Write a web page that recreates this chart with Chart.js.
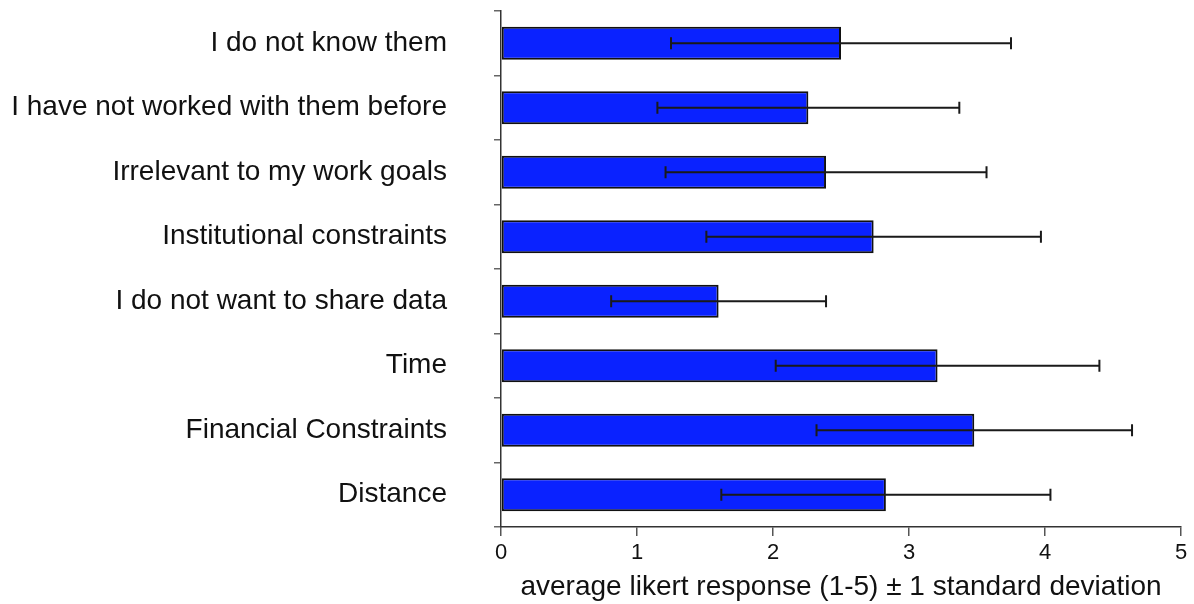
<!DOCTYPE html>
<html>
<head>
<meta charset="utf-8">
<title>Reasons for not collaborating</title>
<script src="https://cdn.jsdelivr.net/npm/chart.js@4.4.1/dist/chart.umd.min.js"></script>
<style>
    html, body { margin: 0; padding: 0; background: #ffffff; }
    #wrap { width: 1194px; height: 604px; position: relative; }
</style>
</head>
<body>
<div id="wrap"><canvas id="likertChart"></canvas></div>
<script>
// Chart data
const categories = [
    'I do not know them',
    'I have not worked with them before',
    'Irrelevant to my work goals',
    'Institutional constraints',
    'I do not want to share data',
    'Time',
    'Financial Constraints',
    'Distance'
];
const meanValues = [2.50, 2.26, 2.39, 2.74, 1.60, 3.21, 3.48, 2.83];
const stdDevs = [1.25, 1.11, 1.18, 1.23, 0.79, 1.19, 1.16, 1.21];
const xTicks = [0, 1, 2, 3, 4, 5];
const xTitle = 'average likert response (1-5) \u00b1 1 standard deviation';

const FONT = '"Liberation Sans", Arial, Helvetica, sans-serif';

// Draws the +/- 1 sd whiskers on top of the bars
const errorBarPlugin = {
    id: 'errorBars',
    afterDatasetsDraw(chart) {
        const ctx = chart.ctx;
        const xScale = chart.scales.x;
        const yScale = chart.scales.y;
        const capHalf = 6;

        ctx.save();
        ctx.strokeStyle = '#1a1a1a';
        ctx.lineWidth = 2;
        meanValues.forEach((mean, i) => {
            const y = yScale.getPixelForValue(i);
            const x1 = xScale.getPixelForValue(mean - stdDevs[i]);
            const x2 = xScale.getPixelForValue(mean + stdDevs[i]);
            ctx.beginPath();
            ctx.moveTo(x1, y);
            ctx.lineTo(x2, y);
            ctx.moveTo(x1, y - capHalf);
            ctx.lineTo(x1, y + capHalf);
            ctx.moveTo(x2, y - capHalf);
            ctx.lineTo(x2, y + capHalf);
            ctx.stroke();
        });
        ctx.restore();
    }
};

function initializeChart() {
    const canvas = document.getElementById('likertChart');
    const ctx = canvas.getContext('2d');

    new Chart(ctx, {
        type: 'bar',
        data: {
            labels: categories,
            datasets: [{
                data: meanValues,
                backgroundColor: '#0a22ff',
                borderColor: '#111111',
                borderWidth: 2,
                borderSkipped: false,
                barPercentage: 0.51,
                categoryPercentage: 1
            }]
        },
        options: {
            indexAxis: 'y',
            responsive: true,
            maintainAspectRatio: false,
            animation: false,
            layout: {
                padding: { top: 11, right: 13, left: 0, bottom: 0 }
            },
            plugins: {
                legend: { display: false },
                tooltip: { enabled: false }
            },
            scales: {
                y: {
                    offset: true,
                    afterFit(scale) {
                        // fixed axis position, no extra top/bottom padding from the label gap
                        scale.width = 501;
                        scale.paddingTop = 0;
                        scale.paddingBottom = 0;
                    },
                    border: { display: true, color: '#333333', width: 1.5 },
                    grid: {
                        offset: true,
                        drawOnChartArea: false,
                        drawTicks: true,
                        tickLength: 7,
                        color: '#666666',
                        lineWidth: 1.5
                    },
                    ticks: {
                        color: '#111111',
                        padding: 47,
                        font: { family: FONT, size: 28 }
                    }
                },
                x: {
                    min: 0,
                    max: 5,
                    afterFit(scale) { scale.height = 604 - 527; },
                    afterBuildTicks(scale) {
                        scale.ticks = xTicks.map(v => ({ value: v }));
                    },
                    border: { display: true, color: '#333333', width: 1.5 },
                    grid: {
                        drawOnChartArea: false,
                        drawTicks: true,
                        tickLength: 9,
                        color: '#555555',
                        lineWidth: 1.5
                    },
                    ticks: {
                        color: '#111111',
                        padding: 4,
                        maxRotation: 0,
                        font: { family: FONT, size: 22 }
                    },
                    title: {
                        display: true,
                        text: xTitle,
                        color: '#111111',
                        padding: { top: 1, bottom: 0 },
                        font: { family: FONT, size: 28 }
                    }
                }
            }
        },
        plugins: [errorBarPlugin]
    });
}

document.addEventListener('DOMContentLoaded', () => {
    initializeChart();
});
</script>
</body>
</html>
